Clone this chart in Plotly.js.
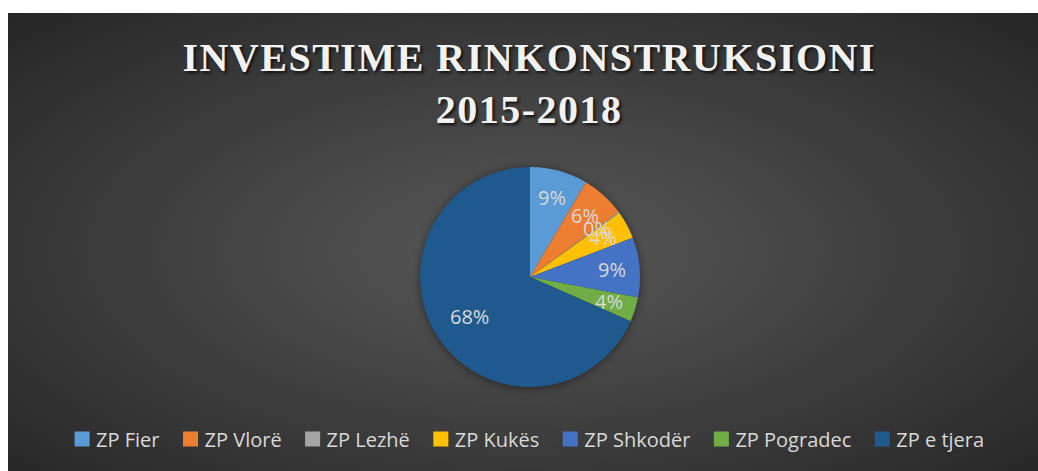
<!DOCTYPE html>
<html>
<head>
<meta charset="utf-8">
<script src="https://cdn.plot.ly/plotly-3.0.1.min.js"></script>
<style>
  html, body { margin: 0; padding: 0; background: #ffffff; width: 1038px; height: 471px; overflow: hidden; }
  #chart {
    position: absolute; left: 8px; top: 13px; width: 1030px; height: 458px;
    background: radial-gradient(ellipse farthest-corner at 50% 52%, #585858 0%, #474747 35%, #262626 100%);
  }
  .gtitle { letter-spacing: 1.5px; }
  .legend .legendpoints path { d: path("M7.5,7.5H-7.5V-7.5H7.5Z"); }
  .legend .legendtext { transform: translateX(-6px); }
  .pielayer { filter: drop-shadow(0px 1px 4px rgba(0,0,0,0.45)); }
</style>
</head>
<body>
<div id="chart"></div>
<script>
const categories = ["ZP Fier", "ZP Vlorë", "ZP Lezhë", "ZP Kukës", "ZP Shkodër", "ZP Pogradec", "ZP e tjera"];
const shares = [8.5, 6.4, 0.2, 4.1, 8.8, 3.6, 68.4];
const colors = ["#5B9BD5", "#ED7D31", "#A5A5A5", "#FFC000", "#4472C4", "#70AD47", "#20598D"];
const titleText = "INVESTIME RINKONSTRUKSIONI<br>2015-2018";

const W = 1030, H = 458;
const cx = 0.5068, cy = 0.4236;     // pie centre (paper)
const Rpx = 110;                    // radius in px
const dom = {
  x: [cx - Rpx / W, cx + Rpx / W],
  y: [cy - Rpx / H, cy + Rpx / H]
};

// label positions derived from the data (clockwise from 12 o'clock)
const total = shares.reduce((a, b) => a + b, 0);
let cum = 0;
const annotations = shares.map((v, i) => {
  const frac = v / total;
  const mid = (cum + frac / 2) * 2 * Math.PI;
  cum += frac;
  const k = frac > 0.5 ? 0.66 : 0.75;
  const dx = Math.sin(mid) * Rpx * k, dy = Math.cos(mid) * Rpx * k;
  return {
    xref: "paper", yref: "paper",
    x: cx + dx / W, y: cy + dy / H,
    text: Math.round(frac * 100) + "%",
    showarrow: false, xanchor: "center", yanchor: "middle",
    font: { family: "Open Sans, Noto Sans, sans-serif", size: 20, color: "#D9D9D9" }
  };
});

const data = [{
  type: "pie",
  labels: categories,
  values: shares,
  sort: false,
  direction: "clockwise",
  rotation: 0,
  marker: { colors: colors, line: { width: 0 } },
  textinfo: "none",
  hoverinfo: "none",
  domain: dom
}];

const layout = {
  width: W, height: H,
  margin: { l: 0, r: 0, t: 0, b: 0 },
  paper_bgcolor: "rgba(0,0,0,0)",
  plot_bgcolor: "rgba(0,0,0,0)",
  title: {
    text: titleText,
    x: 0.506, xref: "container", xanchor: "center",
    y: 1 - 58 / H, yref: "container", yanchor: "top",
    font: { family: "Liberation Serif, serif", size: 40, weight: "bold", color: "#F2F2F2",
            shadow: "2px 2px 3px rgba(0,0,0,0.75)" }
  },
  showlegend: true,
  legend: {
    orientation: "h",
    x: 0.5059, xanchor: "center",
    y: 0.07, yanchor: "middle",
    font: { family: "Open Sans, Noto Sans, sans-serif", size: 20, color: "#D9D9D9" },
    bgcolor: "rgba(0,0,0,0)",
    traceorder: "normal"
  },
  annotations: annotations
};

Plotly.newPlot("chart", data, layout, { displayModeBar: false, staticPlot: true });
</script>
</body>
</html>
